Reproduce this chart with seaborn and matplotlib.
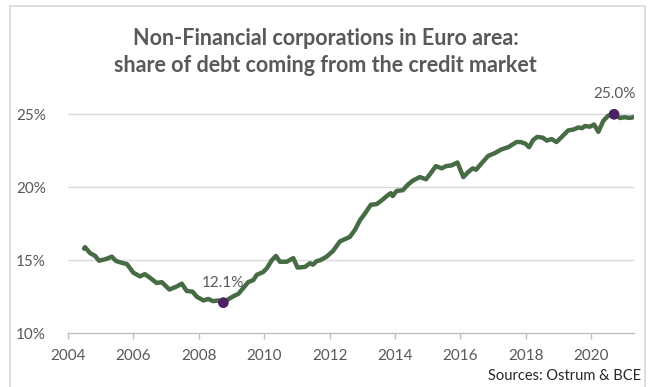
import matplotlib
matplotlib.use("Agg")
import matplotlib.pyplot as plt
import seaborn as sns
import pandas as pd
from matplotlib.patches import Rectangle

# ---- data (decimal year, share of debt from credit market in %) ----
years = [2004.49, 2004.52, 2004.67, 2004.83, 2004.95, 2005.18, 2005.34, 2005.47, 2005.69, 2005.80,
         2006.00, 2006.20, 2006.35, 2006.51, 2006.71, 2006.87, 2007.10, 2007.32, 2007.48, 2007.63,
         2007.81, 2007.94, 2008.14, 2008.29, 2008.44, 2008.60, 2008.75, 2008.95, 2009.11, 2009.21,
         2009.36, 2009.51, 2009.67, 2009.77, 2009.97, 2010.08, 2010.23, 2010.36, 2010.48, 2010.69,
         2010.89, 2011.02, 2011.25, 2011.40, 2011.49, 2011.61, 2011.71, 2011.91, 2012.11, 2012.27,
         2012.32, 2012.47, 2012.62, 2012.78, 2012.93, 2013.08, 2013.26, 2013.44, 2013.59, 2013.75,
         2013.87, 2013.93, 2014.05, 2014.24, 2014.38, 2014.54, 2014.76, 2014.95, 2015.07, 2015.25,
         2015.43, 2015.56, 2015.73, 2015.91, 2016.09, 2016.24, 2016.38, 2016.48, 2016.65, 2016.85,
         2017.06, 2017.26, 2017.47, 2017.57, 2017.72, 2017.84, 2017.98, 2018.10, 2018.23, 2018.35,
         2018.52, 2018.64, 2018.79, 2018.94, 2019.10, 2019.30, 2019.45, 2019.61, 2019.72, 2019.81,
         2019.96, 2020.09, 2020.22, 2020.37, 2020.52, 2020.70, 2020.88, 2021.03, 2021.17, 2021.29]
share = [15.8, 15.9, 15.5, 15.3, 14.97, 15.1, 15.25, 14.95, 14.8, 14.75,
         14.15, 13.9, 14.05, 13.8, 13.45, 13.5, 13.0, 13.2, 13.4, 12.9,
         12.85, 12.5, 12.25, 12.35, 12.2, 12.25, 12.1, 12.4, 12.6, 12.7,
         13.1, 13.5, 13.65, 14.0, 14.2, 14.45, 15.0, 15.3, 14.9, 14.9,
         15.15, 14.5, 14.55, 14.8, 14.7, 14.95, 15.0, 15.25, 15.65, 16.15,
         16.3, 16.45, 16.6, 17.1, 17.75, 18.2, 18.8, 18.85, 19.1, 19.4,
         19.6, 19.4, 19.75, 19.8, 20.15, 20.45, 20.7, 20.55, 20.9, 21.45,
         21.3, 21.45, 21.5, 21.7, 20.7, 21.05, 21.3, 21.2, 21.65, 22.15,
         22.35, 22.6, 22.75, 22.9, 23.1, 23.1, 23.0, 22.75, 23.25, 23.45,
         23.4, 23.2, 23.3, 23.1, 23.45, 23.9, 23.95, 24.1, 24.05, 24.2,
         24.15, 24.3, 23.8, 24.55, 24.9, 25.0, 24.75, 24.8, 24.75, 24.8]

highlight_years = [2008.75, 2020.70]
highlight_vals = [12.1, 25.0]
highlight_labels = ["12.1%", "25.0%"]

xtick_years = [2004, 2006, 2008, 2010, 2012, 2014, 2016, 2018, 2020]
ytick_vals = [10, 15, 20, 25]

title_text = "Non-Financial corporations in Euro area:\nshare of debt coming from the credit market"
source_text = "Sources: Ostrum & BCE"

# ---- style ----
sns.set_style("white")
plt.rcParams["font.family"] = ["Lato", "DejaVu Sans"]

W, H = 655, 387
fig = plt.figure(figsize=(W / 100, H / 100), dpi=100)

def px(x0, y0, x1, y1):
    return [x0 / W, 1 - y1 / H, (x1 - x0) / W, (y1 - y0) / H]

# outer frame
fig.patches.append(Rectangle((10 / W, -0.05), (645 - 10) / W, 1.05 - 6 / H,
                             transform=fig.transFigure, fill=False,
                             edgecolor="#D9D9D9", linewidth=1.2))

ax = fig.add_axes(px(68, 99.7, 634, 333.3))
df = pd.DataFrame({"year": years, "share": share})
line_color = "#476B44"
sns.lineplot(data=df, x="year", y="share", ax=ax, color=line_color,
             linewidth=3.2, solid_capstyle="round", solid_joinstyle="round")

hl = pd.DataFrame({"year": highlight_years, "share": highlight_vals})
sns.scatterplot(data=hl, x="year", y="share", ax=ax, color="#4E2366", s=60,
                edgecolor="none", zorder=5, clip_on=False)
for xv, yv, lab in zip(highlight_years, highlight_vals, highlight_labels):
    ax.annotate(lab, (xv, yv), xytext=(0, 14.5), textcoords="offset points",
                ha="center", va="center", fontsize=11, color="#595959")

ax.set_xlim(2004, 2021.31)
ax.set_ylim(10, 26)
ax.set_xticks(xtick_years)
ax.set_xticklabels([str(y) for y in xtick_years])
ax.set_yticks(ytick_vals)
ax.set_yticklabels([f"{v}%" for v in ytick_vals])
ax.set_xlabel("")
ax.set_ylabel("")

for v in ytick_vals[1:]:
    ax.axhline(v, color="#D9D9D9", linewidth=1.0, zorder=0)

for s in ["top", "right", "left"]:
    ax.spines[s].set_visible(False)
ax.spines["bottom"].set_color("#BFBFBF")
ax.spines["bottom"].set_linewidth(1.0)
ax.tick_params(axis="x", which="both", bottom=True, length=4, width=1.0,
               color="#BFBFBF", labelsize=11, labelcolor="#595959", pad=7)
ax.tick_params(axis="y", which="both", left=False, length=0,
               labelsize=11, labelcolor="#595959", pad=16)
ax.grid(False)

fig.text(0.497, 1 - 52 / H, title_text, ha="center", va="center",
         fontsize=15.5, fontweight="bold", color="#595959", linespacing=1.35)
fig.text(641 / W, 1 - 376 / H, source_text, ha="right", va="center",
         fontsize=10.5, color="#262626")

fig.savefig("out.png", dpi=100)
